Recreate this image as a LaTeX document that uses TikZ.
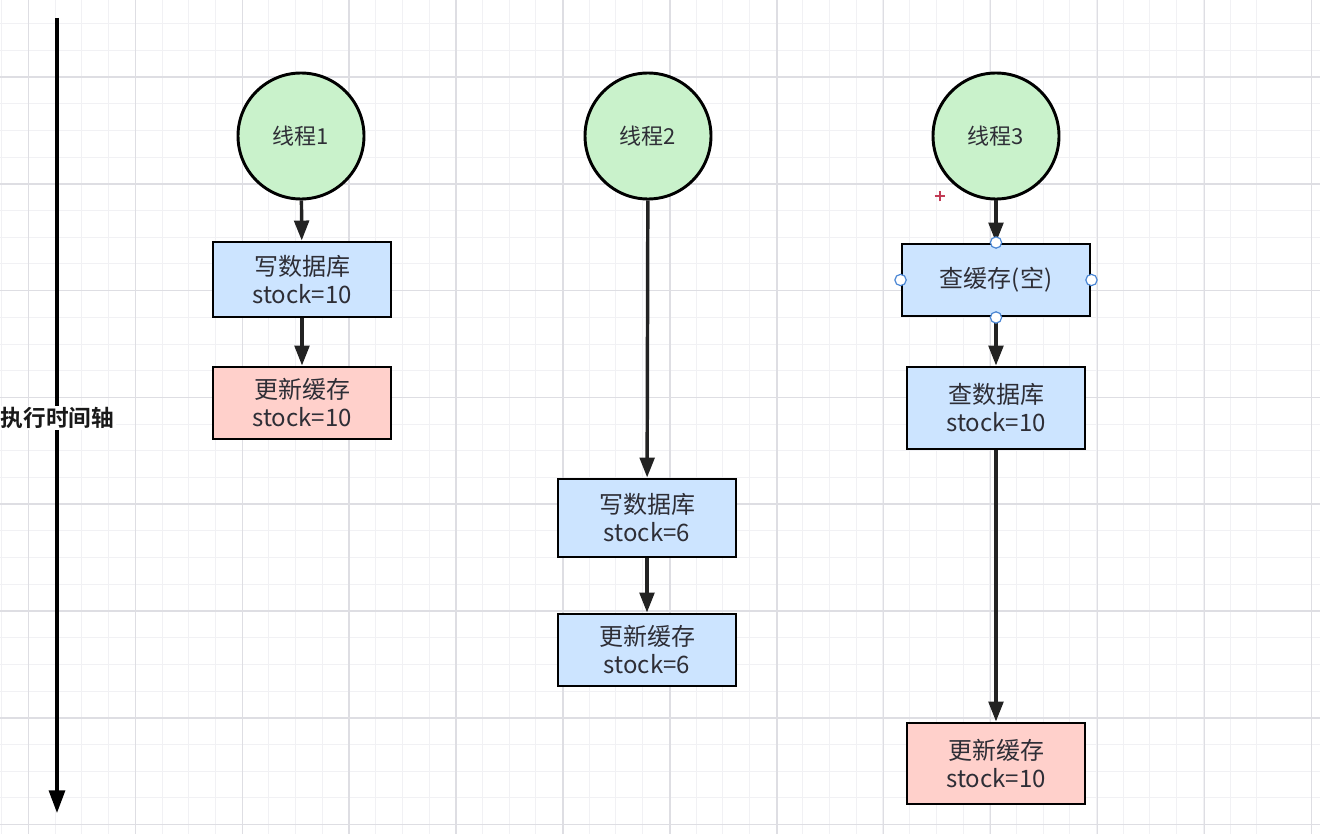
\documentclass[tikz,border=0pt]{standalone}
\usepackage{fontspec}
\setmainfont{Noto Sans CJK SC}[BoldFont={Noto Sans CJK SC Bold}]
\usetikzlibrary{arrows.meta}
\definecolor{gridmaj}{HTML}{DEDEE3}
\definecolor{gridmin}{HTML}{F1F1F4}
\definecolor{thrfill}{HTML}{C9F2CB}
\definecolor{bluefill}{HTML}{CCE4FF}
\definecolor{pinkfill}{HTML}{FFD0CB}
\definecolor{txt}{HTML}{2E2E36}
\definecolor{linec}{HTML}{222222}
\definecolor{handle}{HTML}{4A86D4}
\definecolor{plusred}{HTML}{C23A55}
\begin{document}
\begin{tikzpicture}[x=0.75pt,y=-0.75pt,
  thread/.style={circle,draw=black,line width=2.2pt,fill=thrfill,minimum size=94.5pt,inner sep=0pt,
    font=\fontsize{16.5}{19}\selectfont,text=txt},
  boxbase/.style={rectangle,draw=black,line width=2.2pt,minimum width=133.5pt,align=center,inner sep=0pt,
    font=\fontsize{18}{21}\selectfont,text=txt},
  bluebox/.style={boxbase,fill=bluefill},
  pinkbox/.style={boxbase,fill=pinkfill},
  flow/.style={draw=linec,line width=2.6pt,-{Triangle[length=15pt,width=11pt]}},
  handlept/.style={circle,draw=handle,fill=white,line width=0.9pt,minimum size=8.5pt,inner sep=0pt}]
\useasboundingbox (0,0) rectangle (1320,834);
\fill[white] (0,0) rectangle (1320,834);
% grid
\foreach \i in {0,...,50} {
  \draw[gridmin,line width=0.75pt] ({28.5+26.7*\i-106.8},0) -- ({28.5+26.7*\i-106.8},834);
}
\foreach \j in {0,...,34} {
  \draw[gridmin,line width=0.75pt] (0,{77+26.7*\j-106.8}) -- (1320,{77+26.7*\j-106.8});
}
\foreach \i in {0,...,12} {
  \draw[gridmaj,line width=1.1pt] ({28.5+106.9*\i},0) -- ({28.5+106.9*\i},834);
}
\foreach \j in {0,...,7} {
  \draw[gridmaj,line width=1.1pt] (0,{77+106.8*\j}) -- (1320,{77+106.8*\j});
}
% time axis
\coordinate (axtop) at (57,18);
\coordinate (axbot) at (57,813);
\draw[black,line width=2.4pt,-{Triangle[length=17pt,width=12pt]}] (axtop) -- (axbot);
\node[fill=white,inner sep=1pt,font=\bfseries\fontsize{17}{20}\selectfont,text=black!90] (axlabel) at (57.5,418) {执行时间轴};
% threads
\node[thread] (t1) at (301,136) {线程1};
\node[thread] (t2) at (648,136) {线程2};
\node[thread] (t3) at (996,136) {线程3};
% thread 1
\node[bluebox,minimum height=56.25pt] (w1) at (302,279.5) {写数据库\\stock=10};
\node[pinkbox,minimum height=54pt] (u1) at (302,403) {更新缓存\\stock=10};
% thread 2
\node[bluebox,minimum height=58.5pt] (w2) at (647,518) {写数据库\\stock=6};
\node[bluebox,minimum height=54pt] (u2) at (647,650) {更新缓存\\stock=6};
% thread 3
\node[bluebox,minimum width=141pt,minimum height=54pt] (c3) at (996,280) {查缓存(空)};
\node[bluebox,minimum height=61.5pt] (d3) at (996,408) {查数据库\\stock=10};
\node[pinkbox,minimum height=60.75pt] (u3) at (996,763.5) {更新缓存\\stock=10};
% connectors
\draw[flow] (t1) -- (w1);
\draw[flow] (w1) -- (u1);
\draw[flow] (t2) -- (w2);
\draw[flow] (w2) -- (u2);
\draw[flow] (t3) -- (c3);
\draw[flow] (c3) -- (d3);
\draw[flow] (d3) -- (u3);
% selection handles
\node[handlept] (hN) at (c3.north) {};
\node[handlept] (hS) at (c3.south) {};
\node[handlept] (hW) at (c3.west) {};
\node[handlept] (hE) at (c3.east) {};
% red plus marker
\coordinate (plus) at (940,196);
\draw[plusred,line width=1.3pt] ([xshift=-4pt]plus) -- ([xshift=4pt]plus);
\draw[plusred,line width=1.3pt] ([yshift=-4pt]plus) -- ([yshift=4pt]plus);
\end{tikzpicture}
\end{document}
